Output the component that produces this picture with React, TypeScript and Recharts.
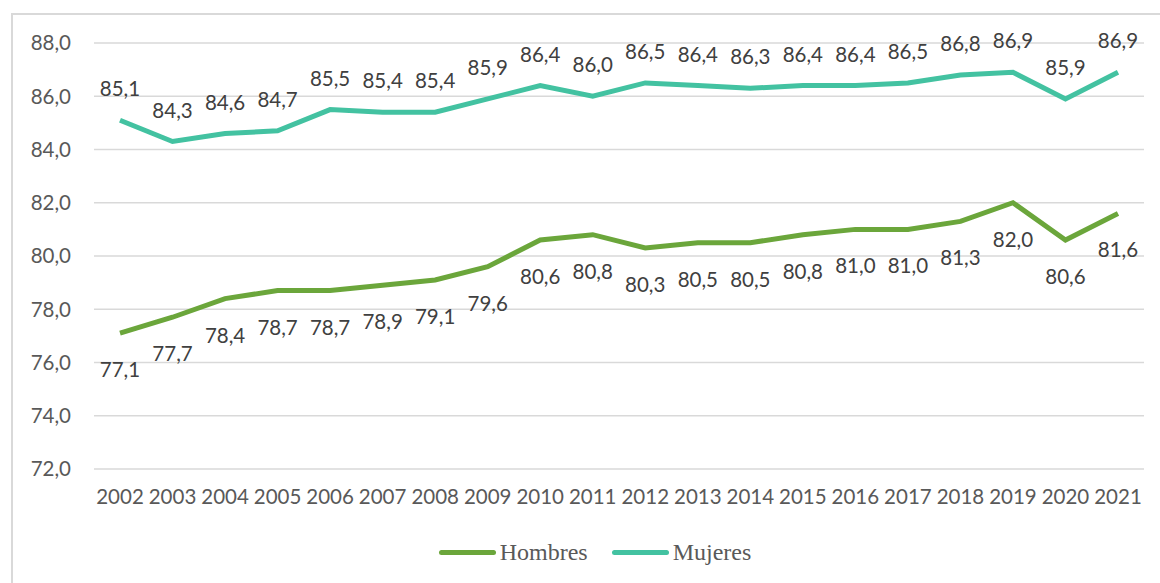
import React from 'react';
import { LineChart, Line, XAxis, YAxis, CartesianGrid, LabelList } from 'recharts';

const years = ['2002', '2003', '2004', '2005', '2006', '2007', '2008', '2009', '2010', '2011',
  '2012', '2013', '2014', '2015', '2016', '2017', '2018', '2019', '2020', '2021'];
const hombres = [77.1, 77.7, 78.4, 78.7, 78.7, 78.9, 79.1, 79.6, 80.6, 80.8,
  80.3, 80.5, 80.5, 80.8, 81.0, 81.0, 81.3, 82.0, 80.6, 81.6];
const mujeres = [85.1, 84.3, 84.6, 84.7, 85.5, 85.4, 85.4, 85.9, 86.4, 86.0,
  86.5, 86.4, 86.3, 86.4, 86.4, 86.5, 86.8, 86.9, 85.9, 86.9];
const yTicks = [72, 74, 76, 78, 80, 82, 84, 86, 88];

const GREEN = '#6BA63B';
const TEAL = '#43C2A1';
const fmt = (v: number) => v.toFixed(1).replace('.', ',');

const data = years.map((year, i) => ({ year, Hombres: hombres[i], Mujeres: mujeres[i] }));

const makeLabel = (dy: number) => (props: any) => {
  const { x, y, value } = props;
  return (
    <text x={x} y={y + dy} textAnchor="middle" dominantBaseline="central"
      fontFamily="Lato" fontSize={20.5} fill="#404040">
      {fmt(value)}
    </text>
  );
};

const LegendItem = ({ color, label }: { color: string; label: string }) => (
  <div style={{ display: 'flex', alignItems: 'center', margin: '0 12px' }}>
    <div style={{ width: 57, height: 5, borderRadius: 3, background: color, marginRight: 4 }} />
    <span style={{ fontFamily: '"Liberation Serif", serif', fontSize: 24, color: '#595959' }}>{label}</span>
  </div>
);

export default function App() {
  return (
    <div style={{ position: 'absolute', left: 0, top: 0, width: 1160, height: 583, background: '#fff' }}>
      <div style={{
        position: 'absolute', left: 11, top: 13, width: 1149, height: 570, boxSizing: 'border-box',
        borderLeft: '2px solid #d9d9d9', borderTop: '2px solid #d9d9d9',
      }} />
      <div style={{ position: 'absolute', left: 0, top: 0 }}>
        <LineChart width={1160} height={583} data={data} margin={{ top: 43, right: 16, left: 0, bottom: 0 }}>
          <CartesianGrid vertical={false} stroke="#d9d9d9" strokeWidth={1.5} />
          <XAxis dataKey="year" height={114} padding={{ left: 26, right: 26 }} axisLine={false} tickLine={false}
            tickSize={0} tickMargin={20} interval={0}
            tick={{ fontFamily: 'Lato', fontSize: 20.5, fill: '#595959' }} />
          <YAxis width={94} domain={[72, 88]} ticks={yTicks} axisLine={false} tickLine={false}
            tickSize={0} tickMargin={23} tickFormatter={fmt}
            tick={{ fontFamily: 'Lato', fontSize: 20.5, fill: '#595959' }} />
          <Line dataKey="Hombres" stroke={GREEN} strokeWidth={5} dot={false} isAnimationActive={false}>
            <LabelList dataKey="Hombres" content={makeLabel(36)} />
          </Line>
          <Line dataKey="Mujeres" stroke={TEAL} strokeWidth={5} dot={false} isAnimationActive={false}>
            <LabelList dataKey="Mujeres" content={makeLabel(-32)} />
          </Line>
        </LineChart>
      </div>
      <div style={{ position: 'absolute', left: 15, top: 539, width: 1160, display: 'flex', justifyContent: 'center' }}>
        <LegendItem color={GREEN} label="Hombres" />
        <LegendItem color={TEAL} label="Mujeres" />
      </div>
    </div>
  );
}
